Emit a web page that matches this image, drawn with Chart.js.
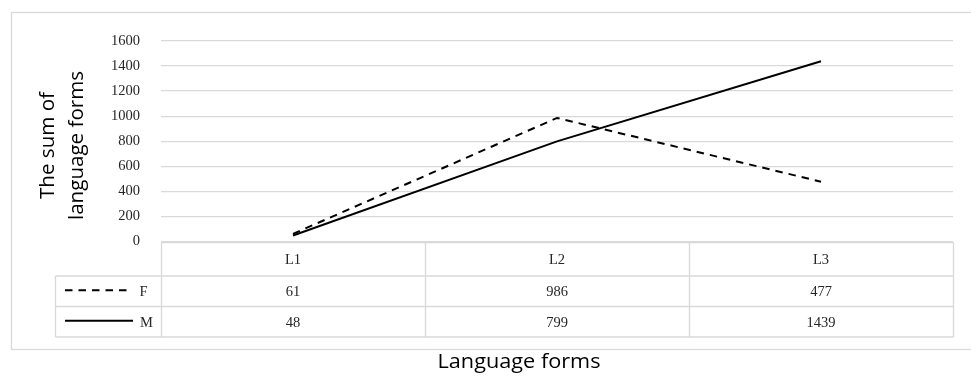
<!DOCTYPE html>
<html>
<head>
<meta charset="utf-8">
<script src="https://cdn.jsdelivr.net/npm/chart.js@4.4.1/dist/chart.umd.min.js"></script>
<style>
html,body{margin:0;padding:0;background:#fff;}
#wrap{width:971px;height:376px;position:relative;}
</style>
</head>
<body>
<div id="wrap"><canvas id="c" width="971" height="376"></canvas></div>
<script>
const categories = ['L1', 'L2', 'L3'];
const seriesF = [61, 986, 477];
const seriesM = [48, 799, 1439];
const seriesNames = ['F', 'M'];
const yTicks = [0, 200, 400, 600, 800, 1000, 1200, 1400, 1600];
const yTitle = ['The sum of', 'language forms'];
const xTitle = 'Language forms';

const GRID = '#d9d9d9';
const SERIF = '"Liberation Serif", "Times New Roman", serif';
const SANS = '"Open Sans", "Noto Sans", sans-serif';
const DASH = [7.5, 6];

function drawFit(ctx, text, cx, cy, targetW) {
  const w = ctx.measureText(text).width;
  const k = targetW ? targetW / w : 1;
  ctx.save();
  ctx.translate(cx, cy);
  ctx.scale(k, 1);
  ctx.fillText(text, 0, 0);
  ctx.restore();
}

const tablePlugin = {
  id: 'tablePlugin',
  afterDraw(chart) {
    const ctx = chart.ctx;
    const ca = chart.chartArea;
    const xs = chart.scales.x;
    const top = Math.round(ca.bottom) + 0.5;
    const rowH = [33.5, 30.5, 30.5];
    const r1 = top + rowH[0], r2 = r1 + rowH[1], r3 = r2 + rowH[2];
    const legL = 55.5;
    const left = Math.round(ca.left) + 0.5, right = Math.round(ca.right) + 0.5;
    const colW = (ca.right - ca.left) / categories.length;
    ctx.save();
    ctx.strokeStyle = GRID; ctx.lineWidth = 1.3;
    ctx.strokeRect(11.5, 12.5, 975, 337);
    ctx.beginPath();
    ctx.moveTo(left, top); ctx.lineTo(right, top);
    [r1, r2, r3].forEach(y => { ctx.moveTo(legL, y); ctx.lineTo(right, y); });
    ctx.moveTo(legL, r1); ctx.lineTo(legL, r3);
    for (let i = 0; i <= categories.length; i++) {
      const x = Math.round(ca.left + i * colW) + 0.5;
      ctx.moveTo(x, top); ctx.lineTo(x, r3);
    }
    ctx.stroke();
    ctx.fillStyle = '#262626';
    ctx.font = '14.5px ' + SERIF;
    ctx.textAlign = 'center'; ctx.textBaseline = 'middle';
    const rows = [seriesF, seriesM];
    categories.forEach((c, i) => {
      const cx = xs.getPixelForValue(i);
      ctx.fillText(c, cx, (top + r1) / 2 + 1);
      rows.forEach((arr, j) => {
        const yy = j === 0 ? (r1 + r2) / 2 : (r2 + r3) / 2;
        ctx.fillText(String(arr[i]), cx, yy + 1);
      });
    });
    ctx.strokeStyle = '#000'; ctx.lineWidth = 2;
    const yF = (r1 + r2) / 2 - 1, yM = (r2 + r3) / 2 - 1;
    ctx.setLineDash(DASH);
    ctx.beginPath(); ctx.moveTo(65, yF); ctx.lineTo(127, yF); ctx.stroke();
    ctx.setLineDash([]);
    ctx.beginPath(); ctx.moveTo(65, yM); ctx.lineTo(133, yM); ctx.stroke();
    ctx.fillText(seriesNames[0], 143.5, yF + 2);
    ctx.fillText(seriesNames[1], 146.5, yM + 2);
    // axis titles
    ctx.fillStyle = '#000';
    ctx.font = '20px ' + SANS;
    ctx.textAlign = 'center'; ctx.textBaseline = 'middle';
    drawFit(ctx, xTitle, 519, 362, 163);
    ctx.save();
    ctx.translate(63, 145.5);
    ctx.rotate(-Math.PI / 2);
    drawFit(ctx, yTitle[0], 0, -14.5, 107);
    drawFit(ctx, yTitle[1], 0, 14.5, 149);
    ctx.restore();
    ctx.restore();
  }
};

new Chart(document.getElementById('c'), {
  type: 'line',
  data: {
    labels: categories,
    datasets: [
      { label: seriesNames[0], data: seriesF, borderColor: '#000', borderWidth: 2, borderDash: DASH, pointRadius: 0, fill: false, tension: 0 },
      { label: seriesNames[1], data: seriesM, borderColor: '#000', borderWidth: 2, pointRadius: 0, fill: false, tension: 0 }
    ]
  },
  options: {
    responsive: false,
    animation: false,
    devicePixelRatio: 1,
    layout: { padding: { left: 0, right: 18, top: 41, bottom: 0 } },
    plugins: { legend: { display: false }, tooltip: { enabled: false }, title: { display: false } },
    scales: {
      x: {
        type: 'category',
        offset: true,
        grid: { display: false, drawTicks: false },
        border: { display: false },
        ticks: { display: false },
        afterFit(s) { s.height = 134.5; }
      },
      y: {
        min: 0, max: 1600,
        afterBuildTicks(s) { s.ticks = yTicks.map(v => ({ value: v })); },
        grid: { color: GRID, lineWidth: 1.3, drawTicks: false },
        border: { display: false },
        ticks: { padding: 21, color: '#262626', font: { family: SERIF, size: 14.5 }, callback: v => String(v) },
        afterFit(s) { s.width = 161; }
      }
    }
  },
  plugins: [tablePlugin]
});
</script>
</body>
</html>
